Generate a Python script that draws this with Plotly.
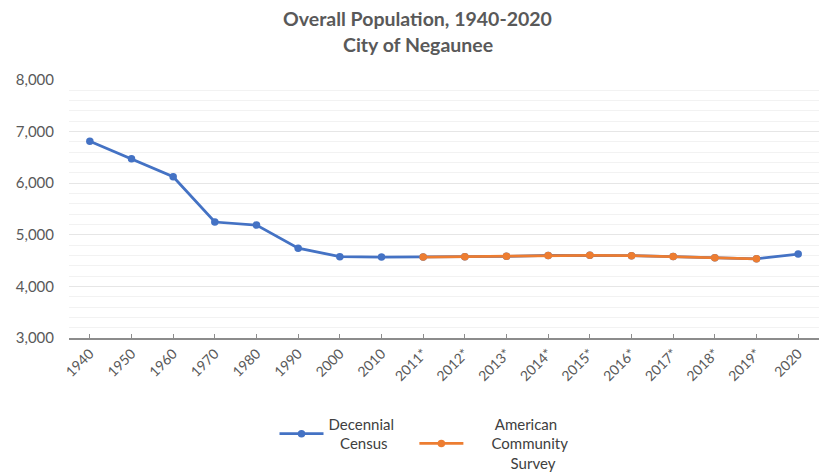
import plotly.graph_objects as go

# Population of the City of Negaunee
years = ["1940", "1950", "1960", "1970", "1980", "1990", "2000", "2010",
         "2011*", "2012*", "2013*", "2014*", "2015*", "2016*", "2017*",
         "2018*", "2019*", "2020"]
census_values = [6813, 6472, 6126, 5248, 5189, 4741, 4576, 4568]
acs_years = ["2011*", "2012*", "2013*", "2014*", "2015*", "2016*", "2017*",
             "2018*", "2019*"]
acs_values = [4568, 4575, 4582, 4600, 4602, 4595, 4578, 4556, 4535]
census_2020 = 4627

# The census line runs through every year so it links to the survey segment
all_values = census_values + acs_values + [census_2020]

BLUE = "#4472C4"
ORANGE = "#ED7D31"
GREY = "#595959"
NB = "\u00a0"

fig = go.Figure()
fig.add_trace(go.Scatter(
    x=years, y=all_values, mode="lines+markers",
    name="Decennial" + NB * 4 + "<br>" + NB * 3 + "Census",
    line=dict(color=BLUE, width=2.75),
    marker=dict(color=BLUE, size=7.5),
))
fig.add_trace(go.Scatter(
    x=acs_years, y=acs_values, mode="lines+markers",
    name=NB * 7 + "American<br>" + NB * 6 + "Community<br>" + NB * 11 + "Survey",
    line=dict(color=ORANGE, width=2.75),
    marker=dict(color=ORANGE, size=7.5),
))

fig.update_layout(
    width=820, height=472,
    margin=dict(l=69, r=1, t=80, b=134, autoexpand=False),
    paper_bgcolor="white", plot_bgcolor="white",
    font=dict(family="Lato", color=GREY, size=13),
    showlegend=True,
    legend=dict(
        orientation="h", x=0.274, xanchor="left", y=-0.27, yanchor="top",
        font=dict(family="Lato", size=15, color="#404040"),
        valign="middle", itemwidth=44,
    ),
    annotations=[
        dict(text="Overall Population, 1940-2020", xref="paper", yref="paper",
             x=0.465, y=1.240, xanchor="center", yanchor="middle",
             showarrow=False,
             font=dict(family="Lato", size=19.5, color=GREY, weight="bold")),
        dict(text="City of Negaunee", xref="paper", yref="paper",
             x=0.465, y=1.136, xanchor="center", yanchor="middle",
             showarrow=False,
             font=dict(family="Lato", size=19.5, color=GREY, weight="bold")),
    ],
)

fig.update_xaxes(
    type="category", categoryorder="array", categoryarray=years,
    range=[-0.5, len(years) - 0.5], automargin=False,
    tickangle=-45, tickfont=dict(size=14, color=GREY),
    showline=True, linecolor="#8c8c8c", linewidth=2,
    ticks="inside", ticklen=4, tickcolor="#8c8c8c",
    showgrid=False, zeroline=False,
)
fig.update_yaxes(
    range=[3000, 8000], dtick=1000, tickformat=",", automargin=False,
    tickfont=dict(size=15, color=GREY),
    showgrid=True, gridcolor="#e6e6e6", gridwidth=1,
    minor=dict(dtick=200, showgrid=True, gridcolor="#f2f2f2", gridwidth=1),
    zeroline=False, showline=False, ticklabelstandoff=14,
)

fig.write_html("out.html")
